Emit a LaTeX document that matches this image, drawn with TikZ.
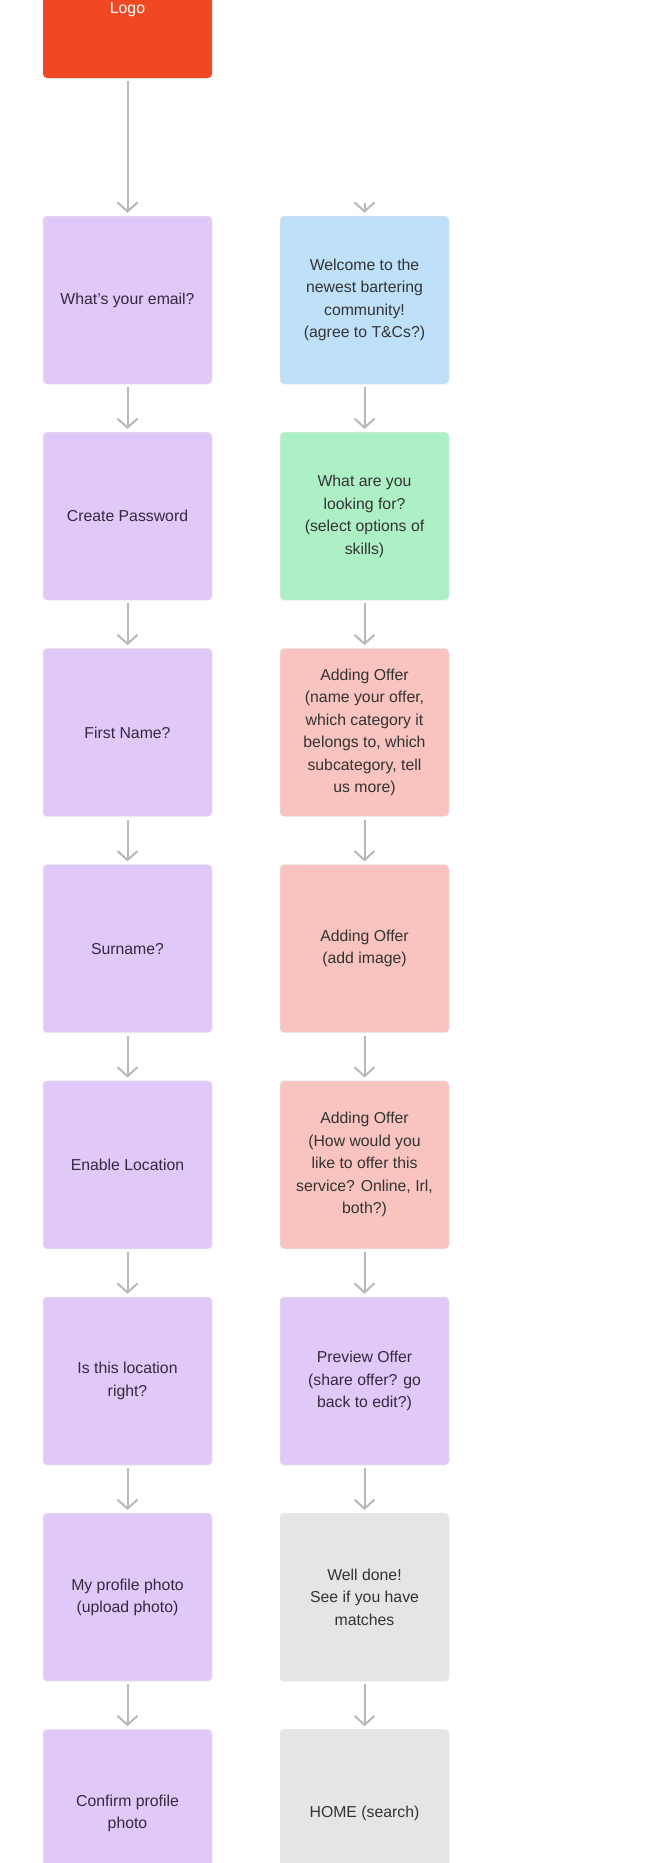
\documentclass[tikz,border=0pt]{standalone}
\usepackage{fontspec}
\setmainfont{Liberation Sans}
\usetikzlibrary{arrows.meta,positioning}
\definecolor{logored}{HTML}{EF4823}
\definecolor{lavender}{HTML}{E0C8F9}
\definecolor{skyblue}{HTML}{BEE0F8}
\definecolor{mint}{HTML}{AEF0C6}
\definecolor{blush}{HTML}{F9C4BF}
\definecolor{paleGrey}{HTML}{E5E5E5}
\definecolor{arrowgrey}{HTML}{B8B8B8}
\definecolor{textgrey}{HTML}{333333}
\definecolor{purpletext}{HTML}{36283D}

\begin{document}
\begin{tikzpicture}[x=1pt,y=-1pt,node distance=47.7pt,
 stepbox/.style={rounded corners=4pt,draw=black!9,line width=0.5pt,minimum width=169pt,minimum height=168pt,align=center,inner sep=4pt,font=\fontsize{15.8}{22.5}\selectfont,text=textgrey},
 signup/.style={stepbox,fill=lavender,text=purpletext},
 flow/.style={draw=arrowgrey,line width=2pt,-{Straight Barb[length=9pt,width=20pt]},shorten <=3pt,shorten >=3pt}]
\useasboundingbox (0,0) rectangle (653,1863);
% left column: account set-up
\node[stepbox,fill=logored,draw=none,text=white,text height=42pt,text depth=3.5pt] (logo) at (127.5,-6) {Logo};
\node[signup] (email) at (127.5,300) {What’s your email?};
\node[signup,below=of email] (password) {Create Password};
\node[signup,below=of password] (firstname) {First Name?};
\node[signup,below=of firstname] (surname) {Surname?};
\node[signup,below=of surname] (location) {Enable Location};
\node[signup,below=of location] (locright) {Is this location\\right?};
\node[signup,below=of locright] (photo) {My profile photo\\(upload photo)};
\node[signup,below=of photo] (confirm) {Confirm profile\\photo};
% right column: first offer
\coordinate (wtop) at (364.5,200);
\node[stepbox,fill=skyblue] (welcome) at (364.5,300) {Welcome to the\\newest bartering\\community!\\(agree to T\&Cs?)};
\node[stepbox,fill=mint,below=of welcome] (lookfor) {What are you\\looking for?\\(select options of\\skills)};
\node[stepbox,fill=blush,below=of lookfor] (offername) {Adding Offer\\(name your offer,\\which category it\\belongs to, which\\subcategory, tell\\us more)};
\node[stepbox,fill=blush,below=of offername] (offerimg) {Adding Offer\\(add image)};
\node[stepbox,fill=blush,below=of offerimg] (offermode) {Adding Offer\\(How would you\\like to offer this\\service? Online, Irl,\\both?)};
\node[signup,below=of offermode] (preview) {Preview Offer\\(share offer? go\\back to edit?)};
\node[stepbox,fill=paleGrey,below=of preview] (welldone) {Well done!\\See if you have\\matches};
\node[stepbox,fill=paleGrey,below=of welldone] (home) {HOME (search)};
% connectors
\foreach \a/\b in {logo/email,email/password,password/firstname,firstname/surname,surname/location,location/locright,locright/photo,photo/confirm,wtop/welcome,welcome/lookfor,lookfor/offername,offername/offerimg,offerimg/offermode,offermode/preview,preview/welldone,welldone/home}
  \draw[flow] (\a) -- (\b);
\end{tikzpicture}
\end{document}
